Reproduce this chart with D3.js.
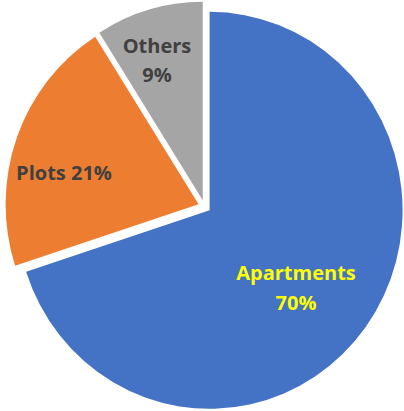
<!DOCTYPE html>
<html><head><meta charset="utf-8">
<script src="https://cdn.jsdelivr.net/npm/d3@7"></script>
<style>html,body{margin:0;padding:0;background:#fff;}</style>
</head><body>
<svg id="c" width="404" height="411"></svg>
<script>
const categories = ["Apartments", "Plots", "Others"];
const values = [70, 21, 9];
const colors = ["#4472C4", "#ED7D31", "#A5A5A5"];
const labelColors = ["#FFFF00", "#404040", "#404040"];

const W = 404, H = 411;
const cx = 204.5, cy = 206.5, R = 198.5, explode = 6.5, sx = 0.972;
const svg = d3.select("#c");
const g = svg.append("g").attr("transform", `translate(${cx},${cy}) scale(${sx},1)`);
const pie = d3.pie().sort(null).value(d => d.v);
const data = pie(categories.map((c, i) => ({c, v: values[i], i})));
const arc = d3.arc().innerRadius(0).outerRadius(R);

data.forEach(d => {
  const mid = (d.startAngle + d.endAngle) / 2;
  const dx = Math.sin(mid) * explode, dy = -Math.cos(mid) * explode;
  g.append("path").attr("d", arc(d)).attr("fill", colors[d.data.i])
    .attr("transform", `translate(${dx},${dy})`);
});

// labels (baseline positions)
const labelPos = [
  {lines: ["Apartments", "70%"], x: 296, y: 280, lh: 30},
  {lines: ["Plots 21%"], x: 64, y: 180, lh: 0},
  {lines: ["Others", "9%"], x: 157, y: 53, lh: 29}
];
labelPos.forEach((p, i) => {
  const t = svg.append("text").attr("text-anchor", "middle")
    .attr("font-family", "Open Sans, Lato, sans-serif").attr("font-weight", "bold")
    .attr("font-size", 20).attr("fill", labelColors[i]);
  p.lines.forEach((l, k) => {
    t.append("tspan").attr("x", p.x).attr("y", p.y + k * p.lh).text(l);
  });
});
</script>
</body></html>
